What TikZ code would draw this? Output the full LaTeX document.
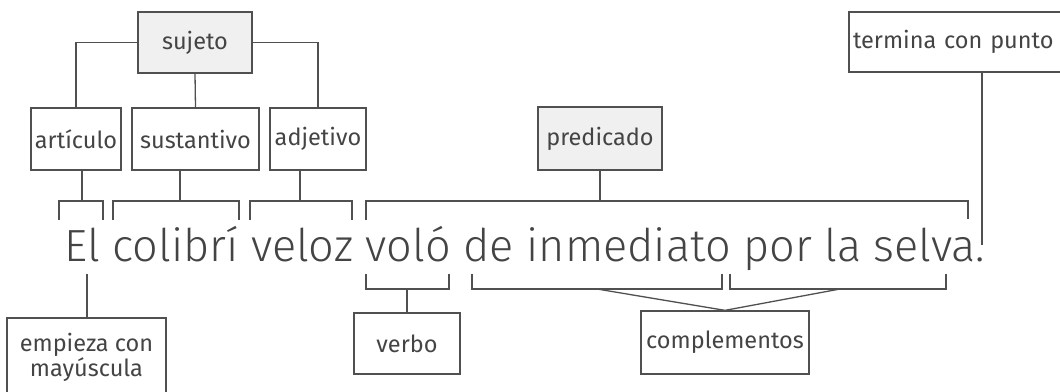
\documentclass[tikz,border=0pt]{standalone}
\usepackage{fontspec}
\setmainfont{Fira Sans}
\newfontfamily\lightfont{Fira Sans Light}
\usepackage{graphicx}
\definecolor{linec}{HTML}{505050}
\definecolor{textc}{HTML}{444444}
\definecolor{boxfill}{HTML}{F0F0F0}
\tikzset{
  lbl/.style={draw=linec, line width=1.3pt, text=textc, inner sep=0pt, align=center,
    font=\fontsize{23.5}{22}\selectfont},
  hilite/.style={lbl, fill=boxfill},
  conn/.style={draw=linec, line width=1.3pt},
}
\begin{document}
\begin{tikzpicture}[x=1pt,y=-1pt]
\useasboundingbox (0,0) rectangle (1060,391);
% boxes
\node[hilite, minimum width=114pt, minimum height=61pt] (sujeto) at (195,42.5) {sujeto};
\node[lbl, minimum width=90pt, minimum height=62pt] (articulo) at (76,139) {artículo};
\node[lbl, minimum width=127pt, minimum height=62pt] (sustantivo) at (195.5,139) {sustantivo};
\node[lbl, minimum width=96pt, minimum height=62pt] (adjetivo) at (318,139) {adjetivo};
\node[hilite, minimum width=124pt, minimum height=63pt] (predicado) at (600,138.5) {predicado};
\node[lbl, minimum width=226pt, minimum height=60pt, text width=218pt, align=left] (termina) at (962,42) {termina con punto};
\node[lbl, minimum width=159pt, minimum height=78pt] (empieza) at (86.5,357) {empieza con\\mayúscula};
\node[lbl, minimum width=106pt, minimum height=61pt] (verbo) at (407,343.5) {verbo};
\node[lbl, minimum width=168pt, minimum height=63pt] (complementos) at (725,342.5) {complementos};
% sentence
\node[anchor=base west, inner sep=0pt, text=textc] (frase) at (64,261)
  {\resizebox{921pt}{!}{\lightfont El colibrí veloz voló de inmediato por la selva.}};
% subject tree
\draw[conn] (sujeto.west) -| (articulo.north);
\draw[conn] (sujeto.east) -| (adjetivo.north);
\draw[conn] (sujeto.south) -- (sustantivo.north);
% top brackets
\coordinate (bArt) at (82,201);
\coordinate (bSus) at (180,201);
\coordinate (bAdj) at (300,201);
\coordinate (bPre) at (600,201);
\draw[conn] (articulo.south -| bArt) -- (bArt);
\draw[conn] (sustantivo.south -| bSus) -- (bSus);
\draw[conn] (adjetivo.south -| bAdj) -- (bAdj);
\draw[conn] (predicado.south) -- (bPre);
\draw[conn] (59,220) -- (59,201) -- (103,201) -- (103,220);
\draw[conn] (113,220) -- (113,201) -- (239,201) -- (239,220);
\draw[conn] (250,220) -- (250,201) -- (352,201) -- (352,220);
\draw[conn] (366,220) -- (366,201) -- (968,201) -- (968,219);
% bottom brackets
\coordinate (bVer) at (407,289);
\coordinate (bC1) at (597,289);
\coordinate (bC2) at (840,289);
\draw[conn] (366,274) -- (366,289) -- (449,289) -- (449,274);
\draw[conn] (472,274) -- (472,289) -- (722,289) -- (722,274);
\draw[conn] (730,274) -- (730,289) -- (946,289) -- (946,274);
\draw[conn] (bVer) -- (verbo.north);
\draw[conn] (bC1) -- (complementos.north);
\draw[conn] (bC2) -- (complementos.north);
% first letter and final period
\coordinate (mayus) at (87,274);
\draw[conn] (mayus) -- (empieza.north -| mayus);
\coordinate (punto) at (982,245);
\draw[conn] (termina.south -| punto) -- (punto);
\end{tikzpicture}
\end{document}
